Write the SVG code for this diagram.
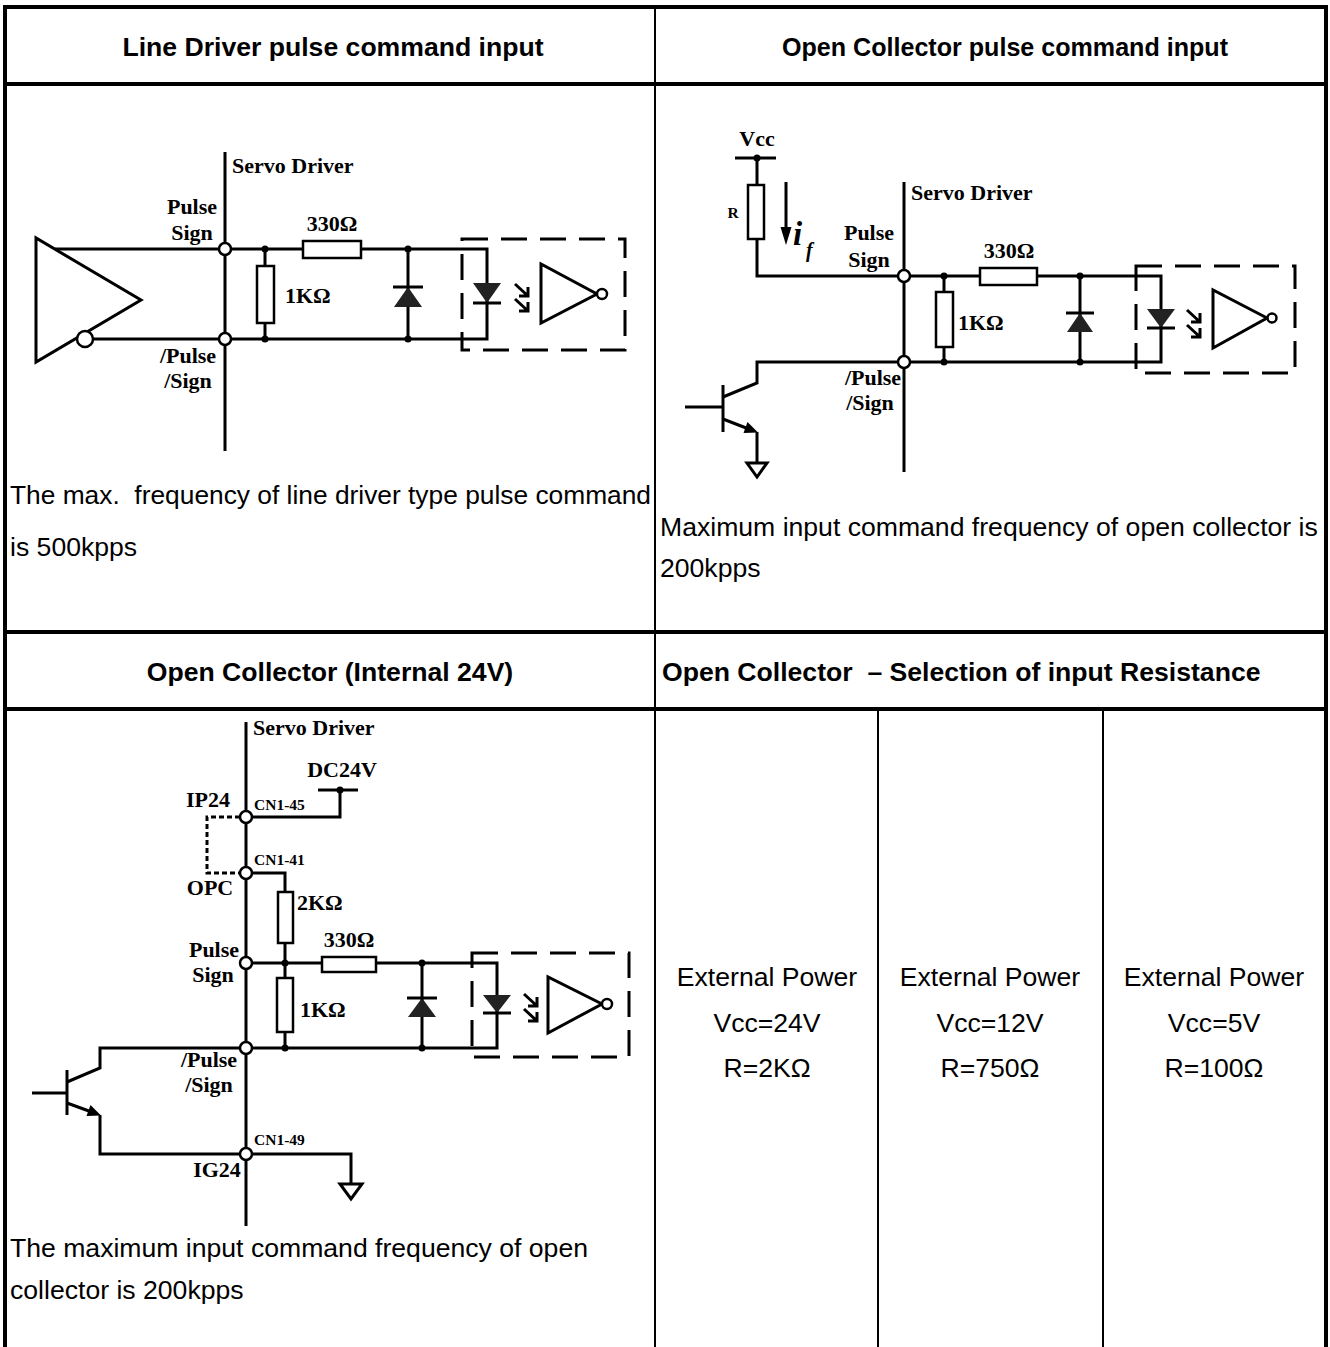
<svg xmlns="http://www.w3.org/2000/svg" width="1330" height="1347" viewBox="0 0 1330 1347">
<style>
.bg{fill:#fff}
.bk{stroke:#000;stroke-width:4;fill:none}
.tn{stroke:#000;stroke-width:2;fill:none}
.w{stroke:#000;stroke-width:3;fill:none}
.rs{fill:#fff;stroke:#000;stroke-width:2.5}
.tm{fill:#fff;stroke:#000;stroke-width:2.5}
.dt{fill:#000}
.fl{fill:#222;stroke:none}
.ds{fill:none;stroke:#000;stroke-width:3;stroke-dasharray:26 13}
.dd{fill:none;stroke:#000;stroke-width:3;stroke-dasharray:5 3}
.hd{font-family:"Liberation Sans",Arial,sans-serif;font-weight:bold;font-size:26.6px;white-space:pre}
.bd{font-family:"Liberation Sans",Arial,sans-serif;font-size:26.6px;white-space:pre}
.cl{font-family:"Liberation Serif","Times New Roman",serif;font-weight:bold;font-size:22px}
.cs{font-family:"Liberation Serif","Times New Roman",serif;font-weight:bold;font-size:15.5px}
.m{text-anchor:middle}
</style>
<rect class="bg" x="0" y="0" width="1330" height="1347"/>
<g id="table">
<line class="bk" x1="3" y1="7" x2="1328" y2="7"/>
<line class="bk" x1="5" y1="5" x2="5" y2="1347"/>
<line class="bk" x1="1326" y1="5" x2="1326" y2="1347"/>
<line class="bk" x1="5" y1="84" x2="1326" y2="84"/>
<line class="bk" x1="5" y1="632" x2="1326" y2="632"/>
<line class="bk" x1="5" y1="709" x2="1326" y2="709"/>
<line class="tn" x1="655" y1="7" x2="655" y2="1347"/>
<line class="tn" x1="878" y1="709" x2="878" y2="1347"/>
<line class="tn" x1="1103" y1="709" x2="1103" y2="1347"/>
<text class="hd m" x="333" y="56">Line Driver pulse command input</text>
<text class="hd m" x="1005" y="56" textLength="446" lengthAdjust="spacingAndGlyphs">Open Collector pulse command input</text>
<text class="hd m" x="330" y="681">Open Collector (Internal 24V)</text>
<text class="hd" x="662" y="681" xml:space="preserve">Open Collector  – Selection of input Resistance</text>
<text class="bd" x="10" y="504" xml:space="preserve" textLength="641" lengthAdjust="spacingAndGlyphs">The max.  frequency of line driver type pulse command</text>
<text class="bd" x="10" y="556">is 500kpps</text>
<text class="bd" x="660" y="536">Maximum input command frequency of open collector is</text>
<text class="bd" x="660" y="577">200kpps</text>
<text class="bd" x="10" y="1257">The maximum input command frequency of open</text>
<text class="bd" x="10" y="1299">collector is 200kpps</text>
<text class="bd m" x="767" y="986">External Power</text>
<text class="bd m" x="767" y="1032">Vcc=24V</text>
<text class="bd m" x="767" y="1077">R=2KΩ</text>
<text class="bd m" x="990" y="986">External Power</text>
<text class="bd m" x="990" y="1032">Vcc=12V</text>
<text class="bd m" x="990" y="1077">R=750Ω</text>
<text class="bd m" x="1214" y="986">External Power</text>
<text class="bd m" x="1214" y="1032">Vcc=5V</text>
<text class="bd m" x="1214" y="1077">R=100Ω</text>
</g>
<g id="circuit-line-driver">
<line class="w" x1="225" y1="152" x2="225" y2="451"/>
<polygon class="w" points="36,238 36,362 141,300"/>
<path class="w" d="M55 249H303M361 249H487V339H93"/>
<line class="w" x1="265" y1="249" x2="265" y2="339"/>
<rect class="rs" x="257" y="266" width="17" height="57"/>
<rect class="rs" x="303" y="241" width="58" height="17"/>
<line class="w" x1="408" y1="249" x2="408" y2="339"/>
<polygon class="fl" points="394,307 422,307 408,287"/>
<line class="w" x1="393" y1="287" x2="423" y2="287"/>
<polygon class="fl" points="473,283 501,283 487,303"/>
<line class="w" x1="473" y1="303" x2="501" y2="303"/>
<path class="w" d="M515 284L528 296M528 287V296H519M515 299L528 311M528 302V311H519"/>
<polygon class="w" points="541,264 541,323 597,294"/>
<circle class="tm" cx="602" cy="294" r="5"/>
<rect class="ds" x="462" y="239" width="163" height="111"/>
<circle class="tm" cx="85" cy="339" r="8"/>
<circle class="tm" cx="225" cy="249" r="6"/>
<circle class="tm" cx="225" cy="339" r="6"/>
<circle class="dt" cx="265" cy="249" r="3.5"/>
<circle class="dt" cx="265" cy="339" r="3.5"/>
<circle class="dt" cx="408" cy="249" r="3.5"/>
<circle class="dt" cx="408" cy="339" r="3.5"/>
<text class="cl" x="232" y="173">Servo Driver</text>
<text class="cl m" x="192" y="214">Pulse</text>
<text class="cl m" x="192" y="240">Sign</text>
<text class="cl m" x="332" y="231">330Ω</text>
<text class="cl" x="285" y="303">1KΩ</text>
<text class="cl m" x="188" y="363">/Pulse</text>
<text class="cl m" x="188" y="388">/Sign</text>
</g>
<g id="circuit-open-collector">
<line class="w" x1="904" y1="182" x2="904" y2="472"/>
<line class="w" x1="735" y1="158" x2="776" y2="158"/>
<circle class="dt" cx="757" cy="158" r="3.5"/>
<path class="w" d="M757 158V185M757 239V276H980M1037 276H1161V362H757V383L723 397"/>
<rect class="rs" x="748" y="185" width="16" height="54"/>
<rect class="rs" x="980" y="268" width="57" height="17"/>
<line class="w" x1="944" y1="276" x2="944" y2="362"/>
<rect class="rs" x="936" y="292" width="17" height="55"/>
<line class="w" x1="1080" y1="276" x2="1080" y2="362"/>
<polygon class="fl" points="1067,332 1093,332 1080,313"/>
<line class="w" x1="1066" y1="313" x2="1094" y2="313"/>
<polygon class="fl" points="1147,309 1175,309 1161,328"/>
<line class="w" x1="1147" y1="328" x2="1175" y2="328"/>
<path class="w" d="M1187 310L1200 322M1200 313V322H1191M1187 325L1200 337M1200 328V337H1191"/>
<polygon class="w" points="1213,290 1213,348 1267,318"/>
<circle class="tm" cx="1272" cy="318" r="4.5"/>
<rect class="ds" x="1136" y="266" width="159" height="107"/>
<line class="w" x1="723" y1="385" x2="723" y2="432"/>
<line class="w" x1="685" y1="407" x2="723" y2="407"/>
<path class="w" d="M723 419L750 429.5M757 432V463"/>
<polygon class="dt" points="758,432.5 743.5,433 747.5,422"/>
<polygon class="w" points="747,463 767,463 757,477" stroke-linejoin="miter"/>
<line class="w" x1="786" y1="182" x2="786" y2="230"/>
<polygon class="dt" points="780.5,227 791.5,227 786,245"/>
<circle class="tm" cx="904" cy="276" r="6"/>
<circle class="tm" cx="904" cy="362" r="6"/>
<circle class="dt" cx="944" cy="276" r="3.5"/>
<circle class="dt" cx="944" cy="362" r="3.5"/>
<circle class="dt" cx="1080" cy="276" r="3.5"/>
<circle class="dt" cx="1080" cy="362" r="3.5"/>
<text class="cl m" x="757" y="146">Vcc</text>
<text class="cs m" x="733" y="218">R</text>
<text x="793" y="245" font-family="Liberation Serif,serif" font-weight="bold" font-style="italic" font-size="33">i</text>
<text x="806" y="257" font-family="Liberation Serif,serif" font-weight="bold" font-style="italic" font-size="20">f</text>
<text class="cl" x="911" y="200">Servo Driver</text>
<text class="cl m" x="869" y="240">Pulse</text>
<text class="cl m" x="869" y="267">Sign</text>
<text class="cl m" x="1009" y="258">330Ω</text>
<text class="cl" x="958" y="330">1KΩ</text>
<text class="cl m" x="873" y="385">/Pulse</text>
<text class="cl m" x="870" y="410">/Sign</text>
</g>
<g id="circuit-internal-24v">
<line class="w" x1="246" y1="722" x2="246" y2="1226"/>
<line class="w" x1="318" y1="790" x2="358" y2="790"/>
<circle class="dt" cx="340" cy="790" r="3.5"/>
<path class="w" d="M340 790V817H246"/>
<path class="dd" d="M240 817H207V873H240"/>
<path class="w" d="M246 873H285V892M285 943V963"/>
<rect class="rs" x="278" y="892" width="15" height="51"/>
<path class="w" d="M246 963H322M376 963H497V1048H100V1068L67 1082"/>
<rect class="rs" x="322" y="957" width="54" height="15"/>
<line class="w" x1="285" y1="963" x2="285" y2="1048"/>
<rect class="rs" x="277" y="978" width="16" height="54"/>
<line class="w" x1="422" y1="963" x2="422" y2="1048"/>
<polygon class="fl" points="408,1017 436,1017 422,998"/>
<line class="w" x1="407" y1="998" x2="437" y2="998"/>
<polygon class="fl" points="483,995 511,995 497,1013"/>
<line class="w" x1="483" y1="1013" x2="511" y2="1013"/>
<path class="w" d="M524 994L537 1006M537 997V1006H528M524 1009L537 1021M537 1012V1021H528"/>
<polygon class="w" points="548,977 548,1033 602,1004"/>
<circle class="tm" cx="607" cy="1004" r="5"/>
<rect class="ds" x="472" y="953" width="157" height="104"/>
<line class="w" x1="67" y1="1070" x2="67" y2="1115"/>
<line class="w" x1="32" y1="1093" x2="67" y2="1093"/>
<path class="w" d="M67 1103L93 1112.5M100 1115V1154H351V1184"/>
<polygon class="dt" points="101,1115.5 86.5,1116 90.5,1105"/>
<polygon class="w" points="340,1184 362,1184 351,1199"/>
<circle class="tm" cx="246" cy="817" r="6"/>
<circle class="tm" cx="246" cy="873" r="6"/>
<circle class="tm" cx="246" cy="963" r="6"/>
<circle class="tm" cx="246" cy="1048" r="6"/>
<circle class="tm" cx="246" cy="1154" r="6"/>
<circle class="dt" cx="285" cy="963" r="3.5"/>
<circle class="dt" cx="285" cy="1048" r="3.5"/>
<circle class="dt" cx="422" cy="963" r="3.5"/>
<circle class="dt" cx="422" cy="1048" r="3.5"/>
<text class="cl" x="253" y="735">Servo Driver</text>
<text class="cl m" x="342" y="777">DC24V</text>
<text class="cl m" x="208" y="807">IP24</text>
<text class="cs" x="254" y="810">CN1-45</text>
<text class="cs" x="254" y="865">CN1-41</text>
<text class="cl m" x="210" y="895">OPC</text>
<text class="cl" x="297" y="910">2KΩ</text>
<text class="cl m" x="214" y="957">Pulse</text>
<text class="cl m" x="349" y="947">330Ω</text>
<text class="cl m" x="213" y="982">Sign</text>
<text class="cl" x="300" y="1017">1KΩ</text>
<text class="cl m" x="209" y="1067">/Pulse</text>
<text class="cl m" x="209" y="1092">/Sign</text>
<text class="cs" x="254" y="1145">CN1-49</text>
<text class="cl m" x="217" y="1177">IG24</text>
</g>
</svg>
